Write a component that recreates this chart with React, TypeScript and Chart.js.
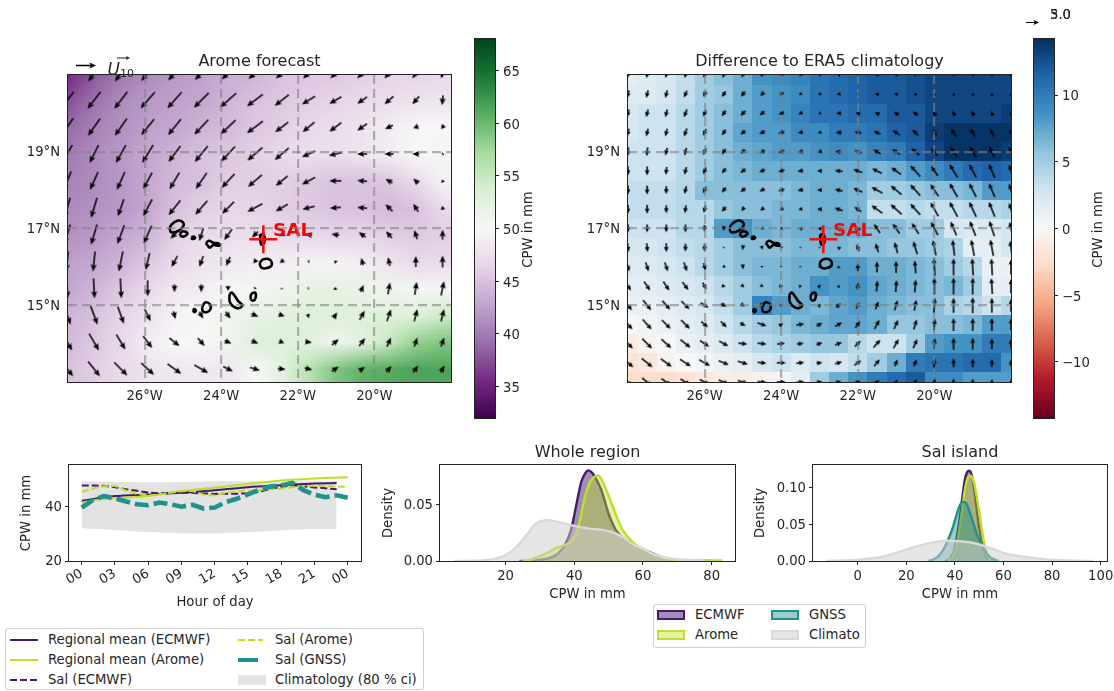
import React, { useEffect, useRef } from "react";
import { Chart, registerables } from "chart.js";

Chart.register(...registerables);

// ---------- colour maps ----------
const PRGn = ["#40004b", "#762a83", "#9970ab", "#c2a5cf", "#e7d4e8", "#f7f7f7", "#d9f0d3", "#a6dba0", "#5aae61", "#1b7837", "#00441b"];
const RdBu = ["#67001f", "#b2182b", "#d6604d", "#f4a582", "#fddbc7", "#f7f7f7", "#d1e5f0", "#92c5de", "#4393c3", "#2166ac", "#053061"];

// ---------- map grids ----------
const aromeLons = [-28.02, -27.32, -26.62, -25.92, -25.22, -24.52, -23.82, -23.12, -22.42, -21.72, -21.02, -20.32, -19.62, -18.92, -18.22];
const aromeLats = [21.04, 20.34, 19.64, 18.94, 18.24, 17.54, 16.84, 16.14, 15.44, 14.74, 14.04, 13.34];
const diffLons = [-28, -27.5, -27, -26.5, -26, -25.5, -25, -24.5, -24, -23.5, -23, -22.5, -22, -21.5, -21, -20.5, -20, -19.5, -19, -18.5, -18];
const diffLats = [21, 20.5, 20, 19.5, 19, 18.5, 18, 17.5, 17, 16.5, 16, 15.5, 15, 14.5, 14, 13.5, 13];

const aromeCPW = [
  [35.5, 38, 40, 41, 42, 42.5, 43.5, 44, 45, 45.5, 45.5, 46, 46.5, 46.5, 47],
  [37.5, 39.5, 41, 42, 42.5, 43, 44, 45, 45.5, 46, 46.5, 47, 47.5, 48, 48],
  [39, 40.5, 41.5, 42.5, 43, 44, 44.5, 45.5, 46, 47, 47.5, 48, 49, 50, 50],
  [40, 41, 42, 43, 44, 45, 45.5, 46, 47, 47.5, 47.5, 48, 49, 50, 50.5],
  [40.5, 41, 42, 43, 44.5, 45, 46, 46, 46, 45.5, 45, 45, 45.5, 47, 49.5],
  [41, 41.5, 42, 43, 45, 46, 46.5, 46.5, 46, 45.5, 45, 45, 44.5, 45, 47],
  [41.5, 42, 43, 44, 46, 47, 47.5, 47.5, 47, 47, 46.5, 46.5, 46, 45.5, 46],
  [42.5, 43, 44, 45.5, 47, 48, 48.5, 49, 49, 49.5, 49.5, 49, 48, 47, 47],
  [43, 44, 45.5, 47, 48.5, 49, 50, 50.5, 51, 52, 52, 51.5, 51, 50.5, 50],
  [44, 45, 46.5, 48, 49.5, 50, 51, 52, 52.5, 53, 53, 53, 53, 53, 54.5],
  [44.5, 45.5, 47, 49, 50, 50, 51, 53, 53, 52.5, 51, 52.5, 55, 58, 59],
  [45, 46, 47, 48, 48.5, 48.5, 48.5, 50, 52.5, 56, 59, 60.5, 61, 61.5, 61.5],
];

const aromeU = [
  [-13, -12, -12, -13, -13, -13, -13, -13, -12, -11, -10, -10, -9, -7, -3],
  [-13, -13, -13, -14, -14, -15, -16, -16, -14, -13, -12, -10, -9, -7, -1],
  [-12, -12, -12, -13, -13, -14, -15, -16, -13, -12, -12, -10, -8, -5, -3],
  [-10, -9, -10, -11, -12, -13, -14, -15, -14, -13, -13, -10, -9, -7, -2],
  [-8, -8, -8, -9, -10, -11, -13, -14, -12, -13, -12, -10, -7, -5, -1],
  [-6, -6, -6, -9, -12, -12, -12, -15, -12, -12, -11, -10, -7, -5, -1],
  [-6, -6, -7, -8, -8, -4, -8, -6, -6, -7, -8, -7, -6, -3, 0],
  [-2, -2, -4, -4, -6, -4, -4, -3, -4, -2, -2, -2, -2, 0, 0],
  [1, 1, 1, 0, 0, 0, 0, -1, 0, 0, 0, 3, 2, 2, 3],
  [7, 7, 6, 6, 2, 4, 5, 7, 6, 3, 4, 5, 4, 3, 3],
  [10, 10, 9, 9, 10, 7, 7, 7, 5, 7, 7, 6, 4, 3, 3],
  [12, 12, 13, 13, 14, 14, 10, 10, 8, 8, 7, 6, 5, 5, 4],
];
const aromeV = [
  [-16, -16, -16, -15, -14, -13, -12, -11, -10, -10, -10, -10, -10, -10, -10],
  [-17, -17, -17, -16, -16, -15, -14, -12, -11, -8, -7, -7, -8, -8, -10],
  [-18, -17, -17, -16, -16, -15, -14, -12, -10, -10, -9, -7, -4, -2, -4],
  [-18, -18, -18, -18, -16, -16, -15, -13, -12, -6, -3, 0, 0, 0, -1],
  [-19, -18, -18, -17, -17, -16, -14, -12, -10, -7, 0, 1, 4, 5, 3],
  [-20, -20, -17, -17, -15, -14, -12, -8, -7, -3, -1, 1, 7, 8, 4],
  [-20, -20, -19, -18, -8, -13, -11, -6, -3, 1, 1, 5, 7, 9, 10],
  [-20, -20, -20, -17, -11, -11, -9, -4, -3, 0, 2, 7, 9, 11, 12],
  [-20, -20, -20, -16, -8, -8, -5, -2, 0.5, 0, 3, 7, 12, 13, 14],
  [-19, -19, -17, -12, -8, -7, -7, -3, -2, 3, 6, 9, 12, 12, 12],
  [-17, -17, -15, -12, -8, -8, -3, -3, -2, -1, 6, 8, 9, 9, 9],
  [-15, -15, -13, -12, -10, -8, -5, -3, -1, -2, 5, 4, 6, 7, 7],
];

const diffCPW = [
  [1.5, 2, 2.5, 3.5, 5, 6, 7, 8.5, 9, 9.5, 10.5, 11, 11.5, 12, 12, 12.5, 13, 13, 13, 13, 13],
  [2, 2, 2.5, 3.5, 5, 5.5, 7, 8, 8.5, 9, 10.5, 11, 11.5, 12, 12, 12.5, 13, 13, 13, 13, 13],
  [2.5, 3, 3, 4, 5, 6, 7, 8, 8.5, 9.5, 10.5, 10.5, 11, 11, 12, 12, 13, 13, 13, 13, 13.5],
  [2.5, 3, 3, 4, 5, 6, 7.5, 8, 8, 9, 9, 10, 10, 10.5, 11.5, 12, 13.5, 14, 14, 14, 14],
  [3, 3, 3, 4, 5, 6, 7, 7.5, 8, 8, 8.5, 9, 8.5, 9.5, 10, 11.5, 13, 14, 14, 14, 13.5],
  [3, 3, 3, 4, 5, 6, 6.5, 7, 7, 7, 7, 7, 7, 6.5, 7, 8, 9, 10, 11, 11.5, 11],
  [3.5, 3.5, 3.5, 4, 6, 6, 6, 6, 6, 6.5, 7, 7, 6.5, 5, 5, 5.5, 6, 6, 6.5, 8, 8],
  [3.5, 3.5, 3.5, 4, 4, 5.5, 6, 6, 6.5, 6.5, 7, 7, 6.5, 3.5, 3.5, 4, 3.5, 3.5, 4, 4, 4.5],
  [3, 3, 3, 4, 4, 8, 8.5, 7, 6.5, 7, 7, 7, 7, 6, 6, 5, 5, 2.5, 2, 2, 2.5],
  [2.5, 2.5, 3, 3.5, 4, 5, 6, 6, 6, 6.5, 6.5, 6.5, 6, 6, 5.5, 5.5, 5, 4.5, 1.5, 1.5, 2.5],
  [2, 2, 2.5, 3, 4, 5, 6, 6.5, 6.5, 7, 7, 8, 8, 7, 7, 6.5, 6, 5, 4, 1, 1],
  [1.5, 1.5, 2, 2.5, 3, 4, 5, 6, 6.5, 7, 8.5, 8, 8.5, 7.5, 7, 6.5, 6, 6.5, 5, 1.5, 1.5],
  [1, 1, 1.5, 2, 2.5, 3.5, 5, 9.5, 8, 7, 6.5, 7.5, 8, 7, 6.5, 6, 6, 4.5, 4, 3, 4],
  [0, 0.5, 1, 1.5, 2, 3, 4, 5, 5.5, 6.5, 7, 7.5, 7.5, 7, 5.5, 5.5, 6, 6, 6.5, 8, 8],
  [-1, -0.5, 0, 1, 1.5, 2, 3, 4, 4.5, 5, 5.5, 5.5, 4, 3, 3, 5, 8, 8.5, 8.5, 10, 10],
  [-2, -1.5, -0.5, 0, 0.5, 1, 1.5, 2.5, 3, 2, 3, 2.5, 3.5, 5, 7, 10, 10.5, 10.5, 11, 11, 8.5],
  [-2.5, -2.5, -2.5, -2, -1.5, -1, -1, -0.5, 0.5, 1.5, 5, 7, 8.5, 10, 11, 12, 9, 9, 8, 8, 8],
];

const diffU = [
  [-2, -2, -2, -2, -3, -3, -3, -3, -3, -3, -3, -3, -3, -3, -3, -2, -1, -1, -1, 0, 0],
  [-2, -2, -2, -3, -3, -4, -4, -4, -3, -3, -3, -4, -3, -4, -4, -3, -1, -1, -1, 0, 0],
  [-2, -2, -2, -3, -3, -4, -5, -5, -5, -4, -3, -5, -5, -5, -5, -5, -3, -3, -3, -2, -1],
  [-2, -2, -2, -3, -3, -4, -5, -6, -6, -5, -4, -6, -7, -7, -7, -6, -4, -5, -5, -4, -3],
  [-1, -1, -2, -2, -3, -4, -5, -6, -6, -6, -5, -7, -8, -8, -8, -8, -6, -7, -6, -5, -4],
  [0, 0, -1, -2, -3, -4, -5, -6, -6, -6, -5, -8, -9, -10, -10, -10, -7, -8, -7, -6, -4],
  [0, 0, 0, -2, -3, -4, -5, -5, -6, -6, -5, -8, -9, -11, -11, -10, -8, -8, -7, -6, -4],
  [0, 0, 0, -1, -2, -4, -3, -4, -4, -4, -5, -8, -7, -11, -11, -10, -8, -8, -7, -6, -4],
  [0, 0, 0, 0, 0, -1, -3, -3, -3, -4, -4, -5, -5, -6, -7, -7, -7, -6, -6, -5, -3],
  [1, 1, 0, 0, 0, 0, -1, 1, -1, 0, 0, -3, -3, -3, -3, -4, -3, -2, -3, -3, -2],
  [3, 3, 3, 3, 2, -2, 0, 0, 0, 0, 0, 0, 0, 0, 0, -1, -1, 0, -1, -1, 0],
  [6, 6, 6, 6, 4, 4, 3, 3, 4, 3, 3, 1, 1, 1, 1, 1, 0, 0, 0, -1, 0],
  [8, 8, 8, 8, 8, 6, 4, 4, 3, 2, 3, 5, 3, 3, 3, 2, 1, 0, 0, 0, 0],
  [9, 9, 9, 9, 7, 6, 6, 9, 4, 8, 6, 7, 5, 5, 4, 3, 1, 0, 0, 0, 0],
  [10, 10, 10, 10, 9, 9, 9, 9, 8, 7, 6, 7, 6, 7, 5, 4, 1, 0, 0, 0, 0],
  [11, 11, 11, 11, 11, 10, 10, 9, 9, 8, 6, 7, 7, 6, 3, 3, 1, 0, 0, 0, 0],
  [10, 10, 10, 10, 10, 10, 10, 9, 9, 8, 6, 6, 6, 5, 3, 3, 1, 0, 0, 0, 0],
];
const diffV = [
  [-6, -6, -6, -6, -6, -6, -5, -4, -3, -2, -1, 1, 0, 0, 0, 1, 2, 2, 2, 2, 2],
  [-8, -8, -8, -7, -6, -6, -5, -4, -4, -2, -2, -1, 0, 1, 1, 2, 3, 3, 3, 3, 3],
  [-8, -8, -8, -8, -7, -6, -5, -4, -3, -2, -1, 0, 1, 2, 3, 4, 5, 5, 5, 5, 4],
  [-8, -8, -8, -8, -7, -6, -4, -3, -2, -1, -1, 0, 1, 3, 5, 6, 7, 8, 8, 8, 7],
  [-9, -9, -8, -8, -7, -6, -4, -3, -2, -1, -1, 1, 2, 4, 5, 7, 8, 10, 11, 11, 10],
  [-9, -9, -8, -8, -7, -5, -4, -3, -2, -1, 0, 1, 3, 5, 7, 11, 10, 13, 13, 14, 13],
  [-9, -9, -8, -8, -7, -5, -4, -3, -2, -1, 0, 2, 4, 6, 9, 11, 12, 14, 14, 14, 13],
  [-9, -9, -8, -8, -7, -5, -4, -3, -2, -1, 0, 3, 5, 8, 10, 11, 14, 15, 15, 15, 13],
  [-8, -8, -8, -8, -7, -5, -2, -1, 0, 1, 1, 2, 3, 9, 10, 11, 13, 14, 15, 15, 13],
  [-9, -9, -9, -8, -8, -1, -5, -4, -3, -1, -1, 3, 7, 9, 11, 13, 15, 16, 16, 16, 14],
  [-9, -9, -9, -9, -8, -2, -5, -2, -1, -1, -2, 3, 8, 11, 12, 13, 18, 17, 17, 17, 15],
  [-9, -9, -9, -8, -7, -1, -3, -2, 0, 1, 3, 3, 7, 11, 12, 13, 17, 17, 17, 16, 14],
  [-10, -10, -9, -8, -5, -3, -3, -2, 1, 2, 3, 4, 7, 8, 10, 11, 15, 15, 16, 15, 13],
  [-10, -10, -9, -9, -6, -6, -3, -3, 3, 1, 3, 4, 7, 9, 9, 10, 12, 13, 13, 13, 12],
  [-10, -10, -9, -8, -6, -5, -1, -1, 1, 1, 2, 3, 6, 8, 9, 9, 11, 12, 12, 11, 10],
  [-9, -9, -8, -7, -6, -4, -3, -1, 0, 1, 1, 2, 5, 7, 7, 7, 9, 9, 9, 8, 7],
  [-8, -8, -7, -6, -5, -4, -3, -1, 0, 1, 1, 1, 3, 4, 5, 6, 7, 7, 7, 6, 6],
];

// ---------- coastlines (lon, lat) ----------
const santoAntao = [[-25.35, 17.0], [-25.3, 17.1], [-25.15, 17.2], [-25.02, 17.18], [-24.98, 17.08], [-25.1, 16.95], [-25.3, 16.9], [-25.35, 17.0]];
const saoVicente = [[-25.08, 16.87], [-25.0, 16.93], [-24.88, 16.88], [-24.95, 16.8], [-25.05, 16.8], [-25.08, 16.87]];
const santaLuzia = [[-24.78, 16.77], [-24.72, 16.79], [-24.68, 16.75], [-24.76, 16.73], [-24.78, 16.77]];
const saoNicolau = [[-24.4, 16.62], [-24.32, 16.68], [-24.2, 16.63], [-24.05, 16.6], [-24.05, 16.55], [-24.2, 16.57], [-24.3, 16.5], [-24.35, 16.55], [-24.4, 16.62]];
const sal = [[-22.98, 16.85], [-22.88, 16.82], [-22.88, 16.62], [-22.95, 16.58], [-22.98, 16.7], [-22.98, 16.85]];
const boaVista = [[-23.0, 16.1], [-22.9, 16.2], [-22.72, 16.18], [-22.68, 16.05], [-22.8, 15.97], [-22.95, 15.98], [-23.0, 16.1]];
const maio = [[-23.22, 15.3], [-23.12, 15.33], [-23.1, 15.2], [-23.17, 15.12], [-23.23, 15.17], [-23.22, 15.3]];
const santiago = [[-23.78, 15.3], [-23.72, 15.33], [-23.55, 15.1], [-23.45, 15.0], [-23.55, 14.92], [-23.7, 14.98], [-23.78, 15.1], [-23.78, 15.3]];
const fogo = [[-24.5, 14.95], [-24.42, 15.07], [-24.3, 15.03], [-24.28, 14.9], [-24.38, 14.82], [-24.48, 14.85], [-24.5, 14.95]];
const brava = [[-24.74, 14.87], [-24.7, 14.9], [-24.66, 14.86], [-24.7, 14.82], [-24.74, 14.87]];
const islands = [santoAntao, saoVicente, santaLuzia, saoNicolau, sal, boaVista, maio, santiago, fogo, brava];
const salStation = [{ x: -22.9, y: 16.72 }];

const mapLonTicks = [-26, -24, -22, -20];
const mapLatTicks = [15, 17, 19];
const aromeBarTicks = [35, 40, 45, 50, 55, 60, 65];
const diffBarTicks = [-10, -5, 0, 5, 10];

// ---------- diurnal cycle ----------
const hourTicks = [0, 3, 6, 9, 12, 15, 18, 21, 24];
const meanHours = [0, 3, 6, 9, 12, 15, 18, 21, 23];
const regionalEcmwf = [42.2, 44, 44.6, 45.2, 46.2, 47.3, 48, 48.7, 48.8];
const arHours = [0, 1, 3, 6, 9, 12, 15, 18, 21, 24];
const regionalArome = [41.6, 42.4, 43.2, 44, 45.9, 47.1, 48.5, 49.8, 50.5, 51];
const climHigh = [49.5, 49.3, 49.1, 49.2, 49.5, 49.5, 49.5, 49.5, 49.5];
const climLow = [32.1, 31.5, 30.7, 30.3, 30.2, 30.7, 31.3, 31.8, 31.8];
const salEcmwf = [47.9, 47.9, 47.8, 47.3, 46.5, 46, 45.3, 45, 45.1, 45.2, 45.2, 45, 44.8, 44.9, 44.9, 45, 45.6, 46.6, 47.4, 48, 47.6, 47.2, 46.9, 46.5];
const salArome = [45.6, 46.8, 47.6, 47.8, 46, 44.8, 44.2, 44.6, 45.2, 45.8, 45.9, 44.5, 44.2, 45.2, 45.8, 46, 46.3, 46.5, 46.8, 47.3, 47.7, 47.8, 47.7, 47.6, 47.4];
const salGnss = [39.8, 42.5, 44, 43.2, 42, 41, 40.6, 41.6, 41, 40.1, 40.8, 39.4, 39.8, 41.8, 43, 44.6, 46.3, 47.5, 47.9, 48.9, 46.2, 44.5, 43.6, 44.3, 43.4];

// ---------- densities: whole region ----------
const wrEcmwfX = [24, 28, 32, 35, 37, 39, 41, 42, 43, 44, 45, 46, 48, 50, 52, 54, 56, 59, 63, 66, 69, 72];
const wrEcmwfD = [0, 0.0005, 0.002, 0.006, 0.013, 0.027, 0.056, 0.07, 0.077, 0.0805, 0.079, 0.075, 0.062, 0.042, 0.028, 0.021, 0.017, 0.012, 0.0065, 0.003, 0.001, 0];
const wrAromeX = [25, 27, 29, 32, 35, 37, 39, 40, 41, 42, 43, 44, 45, 46, 47, 48, 50, 52, 54, 56, 59, 63, 67, 70, 72, 75, 78, 83];
const wrAromeD = [0, 0.001, 0.003, 0.007, 0.012, 0.014, 0.017, 0.021, 0.028, 0.041, 0.056, 0.066, 0.072, 0.075, 0.076, 0.072, 0.058, 0.042, 0.028, 0.02, 0.012, 0.006, 0.002, 0.0005, 0.0002, 0.0005, 0.0006, 0.0005];
const wrClimX = [5, 10, 15, 18, 20, 23, 26, 28.7, 30, 32, 35.5, 39.6, 43.8, 49.3, 53.4, 56.8, 60, 64, 70, 78];
const wrClimD = [0, 0.0002, 0.001, 0.003, 0.005, 0.012, 0.0226, 0.033, 0.035, 0.0365, 0.0344, 0.0315, 0.029, 0.027, 0.0226, 0.0153, 0.011, 0.005, 0.0015, 0.0003];

// ---------- densities: Sal island ----------
const siEcmwfX = [36, 38, 40, 42, 44, 45, 46, 47, 48, 50, 52, 54, 56];
const siEcmwfD = [0, 0.003, 0.018, 0.058, 0.108, 0.12, 0.1223, 0.115, 0.095, 0.045, 0.014, 0.002, 0];
const siAromeX = [37, 39, 41, 43, 44, 45, 46, 47, 48, 50, 52, 54, 56];
const siAromeD = [0, 0.006, 0.026, 0.07, 0.095, 0.11, 0.116, 0.114, 0.105, 0.067, 0.025, 0.004, 0];
const siGnssX = [29, 31, 33, 35, 37, 39, 41, 42, 43, 44, 45, 47, 49, 51, 53, 55, 58];
const siGnssD = [0, 0.002, 0.006, 0.014, 0.027, 0.044, 0.066, 0.075, 0.08, 0.08, 0.076, 0.057, 0.037, 0.022, 0.011, 0.004, 0];
const siClimX = [-13, -3, 7, 15, 22.5, 30, 37, 46, 53.6, 61, 69, 79, 90, 97];
const siClimD = [0, 0.001, 0.004, 0.01, 0.018, 0.0245, 0.0275, 0.0254, 0.0188, 0.0098, 0.0054, 0.0018, 0.0003, 0];

// ---------- styles ----------
const FONT = "'DejaVu Sans'";
const INK = "#262626";
const PURPLE = "#481a6c";
const LIME = "#bddf26";
const TEAL = "#21918c";
const GREY = "#d9d9d9";
const TICK = 13.2;

function hexRgb(h: string) {
  return [parseInt(h.slice(1, 3), 16), parseInt(h.slice(3, 5), 16), parseInt(h.slice(5, 7), 16)];
}
function cmap(stops: string[], v: number, lo: number, hi: number) {
  const t = Math.min(1, Math.max(0, (v - lo) / (hi - lo))) * (stops.length - 1);
  const i = Math.min(stops.length - 2, Math.floor(t));
  const a = hexRgb(stops[i]);
  const b = hexRgb(stops[i + 1]);
  const f = t - i;
  return `rgb(${a.map((c, k) => Math.round(c + (b[k] - c) * f)).join(",")})`;
}

const framePlugin = {
  id: "frame",
  afterDraw(chart: any) {
    const { left, top, right, bottom } = chart.chartArea;
    const c = chart.ctx;
    c.save();
    c.strokeStyle = "#222";
    c.lineWidth = 1;
    c.strokeRect(Math.round(left) - 0.5, Math.round(top) - 0.5, Math.round(right - left) + 1, Math.round(bottom - top) + 1);
    c.restore();
  },
};

const heatPlugin = {
  id: "heat",
  beforeDatasetsDraw(chart: any, _a: any, o: any) {
    const { values, lons, lats, stops, lo, hi, smooth } = o;
    const off = document.createElement("canvas");
    off.width = lons.length;
    off.height = lats.length;
    const oc = off.getContext("2d")!;
    values.forEach((row: number[], j: number) =>
      row.forEach((v, i) => {
        oc.fillStyle = cmap(stops, v, lo, hi);
        oc.fillRect(i, j, 1, 1);
      })
    );
    const dx = Math.abs(lons[1] - lons[0]) / 2;
    const dy = Math.abs(lats[1] - lats[0]) / 2;
    const xs = chart.scales.x;
    const ys = chart.scales.y;
    const x0 = xs.getPixelForValue(lons[0] - dx);
    const x1 = xs.getPixelForValue(lons[lons.length - 1] + dx);
    const y0 = ys.getPixelForValue(lats[0] + dy);
    const y1 = ys.getPixelForValue(lats[lats.length - 1] - dy);
    const c = chart.ctx;
    const a = chart.chartArea;
    c.save();
    c.beginPath();
    c.rect(a.left, a.top, a.right - a.left, a.bottom - a.top);
    c.clip();
    c.imageSmoothingEnabled = !!smooth;
    c.imageSmoothingQuality = "low";
    c.drawImage(off, x0, y0, x1 - x0, y1 - y0);
    c.restore();
  },
};

const salLabelPlugin = {
  id: "salLabel",
  afterDatasetsDraw(chart: any) {
    const c = chart.ctx;
    c.save();
    c.fillStyle = "#ff0000";
    c.font = `bold 18.5px ${FONT}`;
    c.textBaseline = "middle";
    c.textAlign = "left";
    const xs = chart.scales.x;
    const ys = chart.scales.y;
    c.fillText("SAL", xs.getPixelForValue(-22.65), ys.getPixelForValue(16.93));
    c.restore();
  },
};

function drawArrow(c: any, x0: number, x1: number, y: number, sw: number, hw: number, hl: number) {
  c.beginPath();
  c.moveTo(x1, y);
  c.lineTo(x1 - hl, y - hw);
  c.lineTo(x1 - hl * 0.85, y - sw / 2);
  c.lineTo(x0, y - sw / 2);
  c.lineTo(x0, y + sw / 2);
  c.lineTo(x1 - hl * 0.85, y + sw / 2);
  c.lineTo(x1 - hl, y + hw);
  c.closePath();
  c.fill();
}

const sprites = new Map<string, HTMLCanvasElement>();
function arrowSprite(len: number, sw: number, hw: number, hl: number) {
  const L = Math.max(1.5, Math.round(len * 2) / 2);
  const key = `${L}|${sw}|${hw}|${hl}`;
  let s = sprites.get(key);
  if (s) return s;
  s = document.createElement("canvas");
  s.width = Math.ceil(L) + 6;
  s.height = 12;
  const c = s.getContext("2d")!;
  c.fillStyle = "#000";
  const cx = s.width / 2;
  const h = Math.min(hl, L);
  const k = Math.min(1, 0.45 + L / 10);
  drawArrow(c, cx - L / 2, cx + L / 2, 6, sw, hw * k, h);
  sprites.set(key, s);
  return s;
}

function quiverDataset(lons: number[], lats: number[], U: number[][], V: number[][], sw: number, hw: number, hl: number) {
  const pts: any[] = [];
  const us: number[] = [];
  const vs: number[] = [];
  lats.forEach((la, j) =>
    lons.forEach((lo, i) => {
      pts.push({ x: lo, y: la });
      us.push(U[j][i]);
      vs.push(V[j][i]);
    })
  );
  return {
    label: "wind",
    data: pts,
    order: 3,
    clip: 0,
    showLine: false,
    pointRadius: 12,
    pointHoverRadius: 12,
    pointBorderWidth: 0,
    pointStyle: (ctx: any) => arrowSprite(Math.hypot(us[ctx.dataIndex], vs[ctx.dataIndex]), sw, hw, hl),
    pointRotation: (ctx: any) => (Math.atan2(-vs[ctx.dataIndex], us[ctx.dataIndex]) * 180) / Math.PI,
  };
}

function setTicks(list: number[]) {
  return (s: any) => {
    s.ticks = list.map((value) => ({ value }));
  };
}

type Box = { l: number; t: number; r: number; b: number; L: number; T: number; R: number; B: number };

function pos(b: Box) {
  return { left: b.l - b.L, top: b.t - b.T, width: b.r - b.l + b.L + b.R, height: b.b - b.t + b.T + b.B };
}

const TITLE_SIZE = 16;
function titleOpts(text: string, gap: number) {
  return {
    display: true,
    text,
    fullSize: false,
    color: INK,
    font: { family: FONT, size: TITLE_SIZE, weight: "normal" as const, lineHeight: 1.2 },
    padding: { top: 0, bottom: gap },
  };
}

function mapConfig(b: Box, title: string, heat: any, quiver: any, extra: any[]) {
  const gridOpts = { color: "rgba(130,130,130,0.6)", lineWidth: 2.2, drawTicks: false, z: 1 };
  const border = { display: false, dash: [9, 5] };
  const tickFont = { family: FONT, size: TICK };
  const gap = 3.4;
  return {
    type: "scatter" as const,
    plugins: [heatPlugin, salLabelPlugin, framePlugin, ...extra],
    data: {
      datasets: [
        {
          label: "Sal station",
          data: salStation,
          order: 0,
          showLine: false,
          pointStyle: "cross",
          pointRadius: 14,
          pointHoverRadius: 14,
          pointBorderColor: "#f01010",
          pointBackgroundColor: "#f01010",
          pointBorderWidth: 2.6,
          clip: false,
        },
        ...islands.map((isl, n) => ({
          label: `coast ${n}`,
          data: isl.map(([x, y]) => ({ x, y })),
          order: 1,
          showLine: true,
          tension: 0.35,
          borderColor: "#000",
          borderWidth: 2.6,
          pointRadius: 0,
          clip: 0,
        })),
        quiver,
      ],
    },
    options: {
      responsive: false,
      animation: false as const,
      devicePixelRatio: 1,
      layout: { padding: { top: b.T - (TITLE_SIZE * 1.2 + gap), right: b.R } },
      plugins: { legend: { display: false }, tooltip: { enabled: false }, title: titleOpts(title, gap), heat },
      scales: {
        x: {
          type: "linear",
          min: -28,
          max: -18,
          afterBuildTicks: setTicks(mapLonTicks),
          afterFit: (s: any) => { s.height = b.B; },
          grid: gridOpts,
          border,
          ticks: { color: INK, font: tickFont, padding: 7, maxRotation: 0, autoSkip: false, callback: (v: number) => `${-v}°W` },
        },
        y: {
          type: "linear",
          min: 13,
          max: 21,
          afterBuildTicks: setTicks(mapLatTicks),
          afterFit: (s: any) => { s.width = b.L; },
          grid: gridOpts,
          border,
          ticks: { color: INK, font: tickFont, padding: 8, labelOffset: 1, autoSkip: false, callback: (v: number) => `${v}°N` },
        },
      },
    },
  };
}

function barConfig(b: Box, stops: string[], lo: number, hi: number, ticks: number[], extra: any[]) {
  return {
    type: "bar" as const,
    plugins: [framePlugin, ...extra],
    data: {
      labels: ["CPW"],
      datasets: [
        {
          label: "CPW scale",
          data: [[lo, hi]],
          barPercentage: 1,
          categoryPercentage: 1,
          backgroundColor: (ctx: any) => {
            const a = ctx.chart.chartArea;
            if (!a) return stops[5];
            const g = ctx.chart.ctx.createLinearGradient(0, a.bottom, 0, a.top);
            stops.forEach((s, i) => g.addColorStop(i / (stops.length - 1), s));
            return g;
          },
        },
      ],
    },
    options: {
      responsive: false,
      animation: false as const,
      devicePixelRatio: 1,
      layout: { padding: { top: b.T, left: b.L, bottom: b.B } },
      plugins: { legend: { display: false }, tooltip: { enabled: false } },
      scales: {
        x: { display: false },
        y: {
          position: "right",
          min: lo,
          max: hi,
          afterBuildTicks: setTicks(ticks),
          afterFit: (s: any) => { s.width = b.R; },
          grid: { drawOnChartArea: false, drawTicks: true, tickLength: 4, color: "#222", lineWidth: 1 },
          border: { display: false },
          ticks: {
            color: INK,
            font: { family: FONT, size: TICK },
            padding: 4,
            labelOffset: 2,
            autoSkip: false,
            callback: (v: number) => `${v}`.replace("-", "\u2212"),
          },
        },
      },
    },
  };
}

function axisLabelPlugin(dx: number) {
  return {
    id: "cpwLabel",
    afterDraw(chart: any) {
      const c = chart.ctx;
      const a = chart.chartArea;
      c.save();
      c.translate(a.right + dx, (a.top + a.bottom) / 2 + 1);
      c.rotate(-Math.PI / 2);
      c.fillStyle = INK;
      c.font = `${TICK}px ${FONT}`;
      c.textAlign = "center";
      c.textBaseline = "middle";
      c.fillText("CPW in mm", 0, 0);
      c.restore();
    },
  };
}

const u10KeyPlugin = {
  id: "u10Key",
  afterDraw(chart: any) {
    const c = chart.ctx;
    const a = chart.chartArea;
    const ox = a.left;
    const oy = a.top;
    c.save();
    c.fillStyle = "#000";
    drawArrow(c, ox + 8, ox + 28, oy - 9.5, 1.5, 2.9, 6.5);
    c.fillStyle = INK;
    c.font = `italic 17px ${FONT}`;
    c.textBaseline = "alphabetic";
    c.fillText("U", ox + 39.5, oy - 0.5);
    c.font = `11px ${FONT}`;
    c.fillText("10", ox + 52, oy + 1.5);
    c.fillStyle = "#222";
    drawArrow(c, ox + 49, ox + 62, oy - 17, 0.9, 2, 4);
    c.restore();
  },
};

const diffKeyPlugin = {
  id: "diffKey",
  afterDraw(chart: any) {
    const c = chart.ctx;
    const a = chart.chartArea;
    c.save();
    c.fillStyle = "#000";
    drawArrow(c, a.left - 8, a.left + 5, a.top - 16.5, 1.2, 2.6, 5.5);
    c.fillStyle = INK;
    c.font = `${TICK}px ${FONT}`;
    c.textBaseline = "middle";
    c.fillText("3.0", a.left + 16, a.top - 23);
    c.fillText("5.0", a.left + 16, a.top - 23);
    c.restore();
  },
};

function xyData(x: number[], y: number[]) {
  return x.map((v, i) => ({ x: v, y: y[i] }));
}

function densityDs(label: string, x: number[], y: number[], color: string, fill: string, order: number) {
  return {
    label,
    data: xyData(x, y),
    borderColor: color,
    backgroundColor: fill,
    borderWidth: 2.4,
    fill: "origin",
    pointRadius: 0,
    cubicInterpolationMode: "monotone" as const,
    order,
  };
}

function axisTitle(text: string) {
  return { display: true, text, color: INK, font: { family: FONT, size: TICK, lineHeight: 1.2 }, padding: { top: 4, bottom: 4 } };
}

function densityConfig(b: Box, title: string, xlim: number[], ymax: number, xticks: number[], yticks: number[], datasets: any[]) {
  const gap = 2.4;
  return {
    type: "line" as const,
    plugins: [framePlugin],
    data: { datasets },
    options: {
      responsive: false,
      animation: false as const,
      devicePixelRatio: 1,
      layout: { padding: { top: b.T - (TITLE_SIZE * 1.2 + gap), right: b.R } },
      plugins: { legend: { display: false }, tooltip: { enabled: false }, title: titleOpts(title, gap) },
      scales: {
        x: {
          type: "linear",
          min: xlim[0],
          max: xlim[1],
          title: axisTitle("CPW in mm"),
          afterBuildTicks: setTicks(xticks),
          afterFit: (s: any) => { s.height = b.B; },
          grid: { drawOnChartArea: false, tickLength: 4, color: "#222" },
          border: { display: false },
          ticks: { color: INK, font: { family: FONT, size: TICK }, padding: 4, maxRotation: 0, autoSkip: false, callback: (v: number) => `${v}` },
        },
        y: {
          type: "linear",
          min: 0,
          max: ymax,
          title: axisTitle("Density"),
          afterBuildTicks: setTicks(yticks),
          afterFit: (s: any) => { s.width = b.L; },
          grid: { drawOnChartArea: false, tickLength: 4, color: "#222" },
          border: { display: false },
          ticks: { color: INK, font: { family: FONT, size: TICK }, padding: 3, labelOffset: 1, autoSkip: false, callback: (v: number) => v.toFixed(2) },
        },
      },
    },
  };
}

const aromeBox: Box = { l: 68, t: 75, r: 451, b: 382, L: 62, T: 30, R: 30, B: 30 };
const diffBox: Box = { l: 628, t: 75, r: 1011, b: 382, L: 62, T: 30, R: 30, B: 30 };
const aromeBarBox: Box = { l: 475, t: 39, r: 495, b: 418, L: 4, T: 20, R: 50, B: 30 };
const diffBarBox: Box = { l: 1034, t: 39, r: 1054, b: 418, L: 14, T: 34, R: 60, B: 30 };
const lineBox: Box = { l: 69, t: 465, r: 361, b: 561, L: 54, T: 20, R: 30, B: 53 };
const wholeBox: Box = { l: 440, t: 465, r: 735, b: 561, L: 63, T: 28, R: 30, B: 45 };
const salBox: Box = { l: 813, t: 465, r: 1107, b: 561, L: 64, T: 28, R: 30, B: 45 };

const panels: { box: Box; make: () => any }[] = [
  {
    box: aromeBox,
    make: () =>
      mapConfig(
        aromeBox,
        "Arome forecast",
        { values: aromeCPW, lons: aromeLons, lats: aromeLats, stops: PRGn, lo: 32, hi: 68, smooth: true },
        quiverDataset(aromeLons, aromeLats, aromeU, aromeV, 1.7, 3, 7),
        [u10KeyPlugin]
      ),
  },
  {
    box: diffBox,
    make: () =>
      mapConfig(
        diffBox,
        "Difference to ERA5 climatology",
        { values: diffCPW, lons: diffLons, lats: diffLats, stops: RdBu, lo: -14.2, hi: 14.2, smooth: false },
        quiverDataset(diffLons, diffLats, diffU, diffV, 1.3, 2.5, 5.5),
        []
      ),
  },
  { box: aromeBarBox, make: () => barConfig(aromeBarBox, PRGn, 32, 68, aromeBarTicks, [axisLabelPlugin(34)]) },
  { box: diffBarBox, make: () => barConfig(diffBarBox, RdBu, -14.2, 14.2, diffBarTicks, [axisLabelPlugin(45), diffKeyPlugin]) },
  {
    box: lineBox,
    make: () => ({
      type: "line" as const,
      plugins: [framePlugin],
      data: {
        datasets: [
          { label: "Sal (GNSS)", data: xyData(salGnss.map((_, i) => i), salGnss), borderColor: TEAL, borderWidth: 4.6, borderDash: [14, 5], pointRadius: 0, order: 1 },
          { label: "Sal (Arome)", data: xyData(salArome.map((_, i) => i), salArome), borderColor: LIME, borderWidth: 2, borderDash: [7, 3], pointRadius: 0, order: 2 },
          { label: "Sal (ECMWF)", data: xyData(salEcmwf.map((_, i) => i), salEcmwf), borderColor: PURPLE, borderWidth: 2, borderDash: [7, 3], pointRadius: 0, order: 3 },
          { label: "Regional mean (Arome)", data: xyData(arHours, regionalArome), borderColor: LIME, borderWidth: 2, pointRadius: 0, tension: 0.3, order: 4 },
          { label: "Regional mean (ECMWF)", data: xyData(meanHours, regionalEcmwf), borderColor: PURPLE, borderWidth: 2, pointRadius: 0, tension: 0.3, order: 5 },
          { label: "Climatology (80 % ci)", data: xyData(meanHours, climHigh), borderWidth: 0, pointRadius: 0, tension: 0.3, backgroundColor: "#e3e3e3", fill: "+1", order: 6 },
          { label: "climatology low", data: xyData(meanHours, climLow), borderWidth: 0, pointRadius: 0, tension: 0.3, order: 7 },
        ],
      },
      options: {
        responsive: false,
        animation: false as const,
        devicePixelRatio: 1,
        layout: { padding: { top: lineBox.T, right: lineBox.R } },
        plugins: { legend: { display: false }, tooltip: { enabled: false } },
        scales: {
          x: {
            type: "linear",
            min: -1.15,
            max: 25.2,
            title: axisTitle("Hour of day"),
            afterBuildTicks: setTicks(hourTicks),
            afterFit: (s: any) => { s.height = lineBox.B; },
            grid: { drawOnChartArea: false, tickLength: 4, color: "#222" },
            border: { display: false },
            ticks: {
              color: INK,
              font: { family: FONT, size: TICK },
              padding: 1,
              minRotation: 30,
              maxRotation: 30,
              autoSkip: false,
              callback: (v: number) => String(v % 24).padStart(2, "0"),
            },
          },
          y: {
            type: "linear",
            min: 20,
            max: 55.5,
            title: axisTitle("CPW in mm"),
            afterBuildTicks: setTicks([20, 40]),
            afterFit: (s: any) => { s.width = lineBox.L; },
            grid: { drawOnChartArea: false, tickLength: 4, color: "#222" },
            border: { display: false },
            ticks: { color: INK, font: { family: FONT, size: TICK }, padding: 3, labelOffset: 1, autoSkip: false, callback: (v: number) => `${v}` },
          },
        },
      },
    }),
  },
  {
    box: wholeBox,
    make: () =>
      densityConfig(wholeBox, "Whole region", [0.9, 86.8], 0.0853, [20, 40, 60, 80], [0, 0.05], [
        densityDs("Climato", wrClimX, wrClimD, GREY, "rgba(205,205,205,0.5)", 1),
        densityDs("Arome", wrAromeX, wrAromeD, LIME, "rgba(189,223,38,0.42)", 2),
        densityDs("ECMWF", wrEcmwfX, wrEcmwfD, PURPLE, "rgba(72,26,108,0.5)", 3),
      ]),
  },
  {
    box: salBox,
    make: () =>
      densityConfig(salBox, "Sal island", [-18.4, 102.6], 0.13, [0, 20, 40, 60, 80, 100], [0, 0.05, 0.1], [
        densityDs("Climato", siClimX, siClimD, GREY, "rgba(205,205,205,0.5)", 1),
        densityDs("GNSS", siGnssX, siGnssD, TEAL, "rgba(33,145,140,0.45)", 2),
        densityDs("Arome", siAromeX, siAromeD, LIME, "rgba(189,223,38,0.42)", 3),
        densityDs("ECMWF", siEcmwfX, siEcmwfD, PURPLE, "rgba(72,26,108,0.5)", 4),
      ]),
  },
];

function Panel({ box, make }: { box: Box; make: () => any }) {
  const ref = useRef<HTMLCanvasElement>(null);
  useEffect(() => {
    const chart = new Chart(ref.current!, make());
    return () => chart.destroy();
  }, []);
  const p = pos(box);
  return <canvas ref={ref} width={p.width} height={p.height} style={{ position: "absolute", left: p.left, top: p.top }} />;
}

const legendText: React.CSSProperties = { position: "absolute", fontFamily: FONT, fontSize: TICK, color: INK, whiteSpace: "nowrap", lineHeight: "16px" };

function LineKey({ x, y, w, color, width, dash, label, tx }: any) {
  return (
    <>
      <svg style={{ position: "absolute", left: x, top: y - 6, overflow: "visible" }} width={w} height={12}>
        <line x1={0} y1={6} x2={w} y2={6} stroke={color} strokeWidth={width} strokeDasharray={dash} />
      </svg>
      <div style={{ ...legendText, left: tx, top: y - 8 }}>{label}</div>
    </>
  );
}

function PatchKey({ x, y, edge, fill, label }: any) {
  return (
    <>
      <div style={{ position: "absolute", boxSizing: "border-box", left: x, top: y - 5, width: 28, height: 10, border: `2.4px solid ${edge}`, background: fill }} />
      <div style={{ ...legendText, left: x + 38, top: y - 8 }}>{label}</div>
    </>
  );
}

const boxStyle: React.CSSProperties = { position: "absolute", boxSizing: "border-box", border: "1px solid #cfcfcf", borderRadius: 3, background: "#fff" };

export default function App() {
  return (
    <div style={{ position: "fixed", left: 0, top: 0, width: 1114, height: 691, overflow: "hidden", background: "#fff", filter: "blur(0.5px)" }}>
      {panels.map((p, i) => (
        <Panel key={i} box={p.box} make={p.make} />
      ))}
      <div style={{ ...boxStyle, left: 5, top: 628, width: 419, height: 62 }} />
      <LineKey x={10} y={640} w={28} color={PURPLE} width={2} label="Regional mean (ECMWF)" tx={48} />
      <LineKey x={10} y={660} w={28} color={LIME} width={2} label="Regional mean (Arome)" tx={48} />
      <LineKey x={10} y={680} w={28} color={PURPLE} width={2} dash="7 3" label="Sal (ECMWF)" tx={48} />
      <LineKey x={238} y={640} w={25} color={LIME} width={2} dash="7 3" label="Sal (Arome)" tx={275} />
      <LineKey x={238} y={660} w={20} color={TEAL} width={4} label="Sal (GNSS)" tx={275} />
      <div style={{ position: "absolute", left: 238, top: 675, width: 28, height: 10, background: "#e3e3e3" }} />
      <div style={{ ...legendText, left: 275, top: 672 }}>Climatology (80 % ci)</div>

      <div style={{ ...boxStyle, left: 653, top: 604, width: 213, height: 44 }} />
      <PatchKey x={657} y={615} edge={PURPLE} fill="rgba(72,26,108,0.5)" label="ECMWF" />
      <PatchKey x={657} y={635} edge={LIME} fill="rgba(189,223,38,0.42)" label="Arome" />
      <PatchKey x={771} y={615} edge={TEAL} fill="rgba(33,145,140,0.45)" label="GNSS" />
      <PatchKey x={771} y={635} edge="#d9d9d9" fill="rgba(205,205,205,0.5)" label="Climato" />
    </div>
  );
}
